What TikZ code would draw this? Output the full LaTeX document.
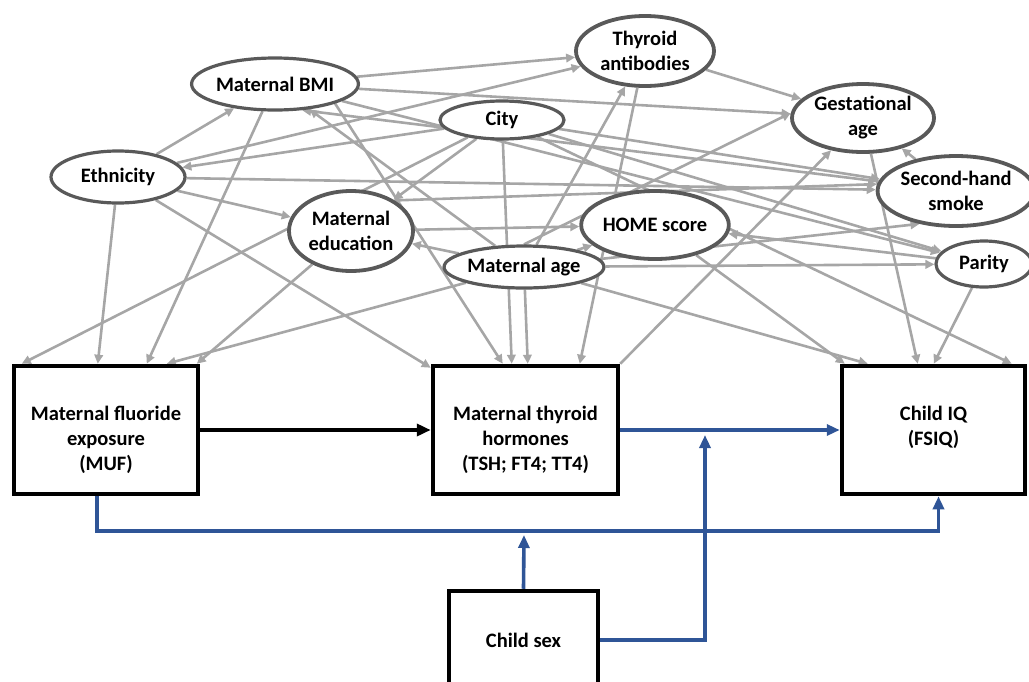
\documentclass[tikz,border=0pt]{standalone}
\usepackage{fontspec}
\setmainfont{Carlito}
\usetikzlibrary{arrows.meta,shapes.geometric}
\pgfdeclarelayer{edges}
\pgfsetlayers{edges,main}
\definecolor{edgegray}{RGB}{166,166,166}
\definecolor{rimgray}{RGB}{89,89,89}
\definecolor{pathblue}{RGB}{47,85,151}
\begin{document}
\begin{tikzpicture}[x=1pt,y=-1pt,
  lbl/.style={font=\fontsize{20.5}{25}\selectfont\bfseries, align=center, inner sep=0pt},
  var/.style={lbl, ellipse, draw=rimgray, line width=3.2pt, fill=white},
  bigvar/.style={var, line width=3.8pt},
  box/.style={rectangle, draw=black, line width=4.5pt, fill=white, inner sep=0pt},
  dep/.style={draw=edgegray, line width=2.6pt, -{Triangle[length=9pt,width=8.5pt]}},
  flow/.style={draw=pathblue, line width=3.6pt, -{Triangle[length=13pt,width=11pt]}},
  mainpath/.style={draw=black, line width=4.5pt, -{Triangle[length=14pt,width=12pt]}}
]
\useasboundingbox (0,0) rectangle (1029,681);

% covariates
\node[var, minimum width=156pt, minimum height=52pt] (bmi) at (275,84) {Maternal BMI};
\node[bigvar, minimum width=138pt, minimum height=70pt] (ta) at (645,51) {Thyroid\\antibodies};
\node[var, minimum width=124pt, minimum height=38pt] (city) at (502,120) {City};
\node[bigvar, minimum width=142pt, minimum height=68pt] (ga) at (863,118) {Gestational\\age};
\node[var, minimum width=134pt, minimum height=52pt] (eth) at (118,177) {Ethnicity};
\node[bigvar, minimum width=132pt, minimum height=70pt] (smoke) at (956,191) {Second-hand\\smoke};
\node[bigvar, minimum width=124pt, minimum height=80pt] (edu) at (351,231) {Maternal\\education};
\node[bigvar, minimum width=122pt, minimum height=68pt] (home) at (655,225) {HOME score};
\node[var, minimum width=146pt, minimum height=42pt] (ma) at (524,267) {Maternal age};
\node[var, minimum width=96pt, minimum height=46pt] (par) at (984,264) {Parity};

% exposure, mediator, outcome and modifier boxes
\node[box, minimum width=184pt, minimum height=128pt] (muf) at (106,430) {};
\node[box, minimum width=185pt, minimum height=128pt] (th) at (525.5,430) {};
\node[box, minimum width=183pt, minimum height=128pt] (iq) at (933.5,430) {};
\node[box, minimum width=149pt, minimum height=98pt] (sex) at (523.5,640) {};
\node[lbl] (muftext) at (106,440) {Maternal fluoride\\exposure\\(MUF)};
\node[lbl] (thtext) at (525.5,440) {Maternal thyroid\\hormones\\(TSH; FT4; TT4)};
\node[lbl] (iqtext) at (933.5,427) {Child IQ\\(FSIQ)};
\node[lbl] (sextext) at (523.5,640) {Child sex};

\coordinate (modtip) at (705,435);
\coordinate (bustip) at (524,535);

\begin{pgfonlayer}{edges}
% ethnicity
\draw[dep] (eth) -- (bmi);
\draw[dep] (eth) -- (ta);
\draw[dep] (eth) -- (smoke);
\draw[dep] (eth) -- (edu);
\draw[dep] (eth) -- ([xshift=86pt]muf.north west);
\draw[dep] (eth) -- ([yshift=-4pt]th.north west);
% city
\draw[dep] (city) -- (eth);
\draw[dep] (city) -- ([xshift=10pt]muf.north west);
\draw[dep] (city) -- (edu);
\draw[dep] (city) -- ([xshift=81pt]th.north west);
\draw[dep] (city) -- ([xshift=172pt]iq.north west);
\draw[dep] (city) -- (smoke);
\draw[dep] (city) -- (par);
% maternal BMI
\draw[dep] (bmi) -- (ta);
\draw[dep] (bmi) -- (ga);
\draw[dep] (bmi) -- ([xshift=135pt]muf.north west);
\draw[dep] (bmi.-18) -- ([xshift=72pt]th.north west);
\draw[dep] (bmi) -- (par);
% maternal age
\draw[dep] (ma) -- (bmi);
\draw[dep] (ma) -- (ta);
\draw[dep] (ma.north) -- (ga.176);
\draw[dep] (ma.6) -- (smoke.222);
\draw[dep] (ma) -- (par);
\draw[dep] (ma) -- (home);
\draw[dep] (ma) -- (edu);
\draw[dep] (ma) -- ([xshift=155pt]muf.north west);
\draw[dep] (ma) -- ([xshift=97pt]th.north west);
\draw[dep] (ma) -- ([xshift=28pt]iq.north west);
% maternal education
\draw[dep] (edu) -- (home);
\draw[dep] (edu.35) -- (smoke.175);
\draw[dep] (edu) -- ([xshift=185pt]muf.north west);
% thyroid antibodies, gestational age, smoke, parity, HOME
\draw[dep] (ta) -- (ga);
\draw[dep] (ta) -- ([xshift=149pt]th.north west);
\draw[dep] (th.north east) -- (ga);
\draw[dep] (smoke) -- (ga);
\draw[dep] (smoke) -- (bmi.-44);
\draw[dep] (par) -- (home);
\draw[dep] (home) -- ([xshift=5pt]iq.north west);
\draw[dep] (ga) -- ([xshift=78pt]iq.north west);
\draw[dep] (par) -- ([xshift=94pt]iq.north west);
\end{pgfonlayer}

% main pathway and effect modification by child sex
\draw[mainpath] (muf.east) -- (th.west);
\draw[flow] (th.east) -- (iq.west);
\draw[flow] ([xshift=-9pt]muf.south) -- ++(0,35) -| ([xshift=5pt]iq.south);
\draw[flow] (sex.north) -- (bustip);
\draw[flow] (sex.east) -| (modtip);
\end{tikzpicture}
\end{document}
